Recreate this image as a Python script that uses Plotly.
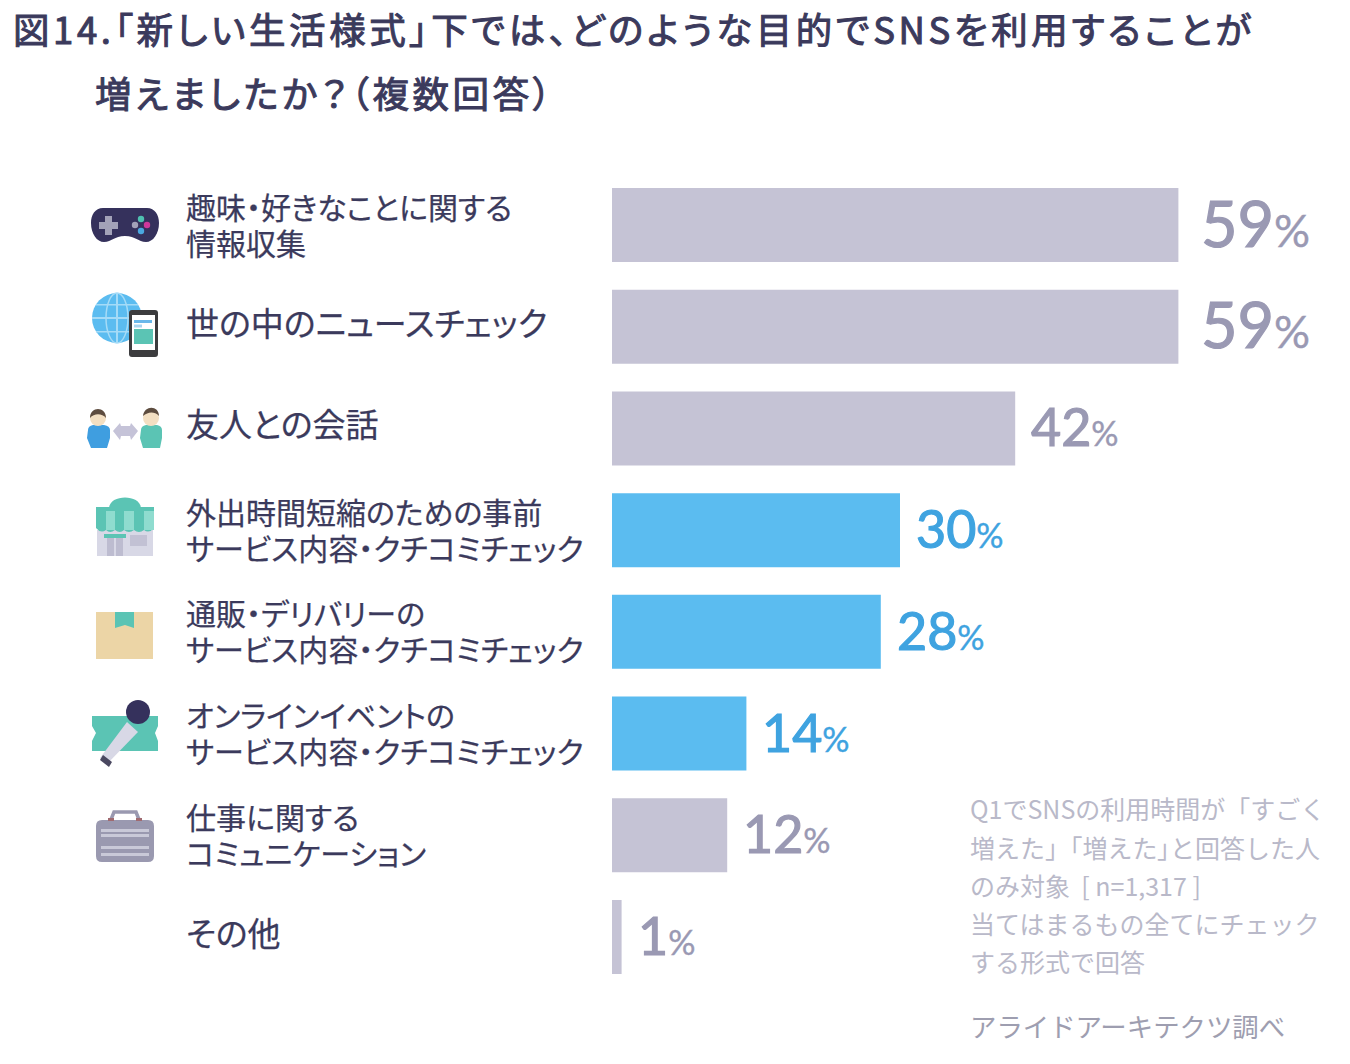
import plotly.graph_objects as go

W, H = 1350, 1064
FONT = "Noto Sans CJK JP"
NUMFONT = "Lato"

title_lines = ["図14.「新しい生活様式」下では、どのような目的でSNSを利用することが",
               "増えましたか？（複数回答）"]
categories = ["趣味・好きなことに関する\n情報収集", "世の中のニュースチェック", "友人との会話",
              "外出時間短縮のための事前\nサービス内容・クチコミチェック",
              "通販・デリバリーの\nサービス内容・クチコミチェック",
              "オンラインイベントの\nサービス内容・クチコミチェック",
              "仕事に関する\nコミュニケーション", "その他"]
values = [59, 59, 42, 30, 28, 14, 12, 1]
highlighted = [False, False, False, True, True, True, False, False]
note_lines = ["Q1でSNSの利用時間が「すごく", "増えた」「増えた」と回答した人", "のみ対象\u00a0\u00a0[ n=1,317 ]",
              "当てはまるもの全てにチェック", "する形式で回答"]
source = "アライドアーキテクツ調べ"

GRAY, BLUE, GRAY_T, BLUE_T = "#c5c3d5", "#5bbcf0", "#9a99b3", "#3fa3e0"
DARK, TEAL, INK = "#35315c", "#5bc4b4", "#3b3a5c"

fx = lambda x: x / W
fy = lambda y: 1 - y / H


def path(d, fill, line=None, lw=0):
    out, num_is_x = [], True
    for tok in d.split():
        try:
            v = float(tok)
            out.append(f"{fx(v) if num_is_x else fy(v):.5f}")
            num_is_x = not num_is_x
        except ValueError:
            out.append(tok)
            num_is_x = True
    return dict(type="path", xref="paper", yref="paper", path=" ".join(out),
                fillcolor=fill, line=dict(color=line or fill, width=lw), layer="above")


def rect(x0, y0, x1, y1, fill):
    return dict(type="rect", xref="paper", yref="paper", x0=fx(x0), x1=fx(x1), y0=fy(y0), y1=fy(y1),
                fillcolor=fill, line=dict(width=0), layer="above")


def circ(cx, cy, rx, fill, ry=None, line=None, lw=0):
    ry = rx if ry is None else ry
    return dict(type="circle", xref="paper", yref="paper", x0=fx(cx - rx), x1=fx(cx + rx),
                y0=fy(cy - ry), y1=fy(cy + ry), fillcolor=fill,
                line=dict(color=line or fill, width=lw), layer="above")


def rrect(x0, y0, x1, y1, r, fill):
    return path(f"M {x0+r} {y0} L {x1-r} {y0} Q {x1} {y0} {x1} {y0+r} L {x1} {y1-r} Q {x1} {y1} {x1-r} {y1} "
                f"L {x0+r} {y1} Q {x0} {y1} {x0} {y1-r} L {x0} {y0+r} Q {x0} {y0} {x0+r} {y0} Z", fill)


icons = [
    # gamepad
    path("M 103 208 L 147 208 C 155 208 159 215 159 223 C 159 234 153 242 146 242 C 138 242 136 236 125 236 "
         "C 114 236 112 242 104 242 C 97 242 91 234 91 223 C 91 215 95 208 103 208 Z", DARK),
    rect(99, 222, 118, 229, "#a3a2b8"), rect(105, 216, 112, 235, "#a3a2b8"),
    circ(141, 219, 3.2, "#4fc0b0"), circ(147, 225, 3.2, "#d0379b"), circ(141, 231, 3.2, "#4aa8e0"),
    circ(135, 225, 3.2, "#a3a2b8"),
    # globe and phone
    circ(117, 318, 25, "#5bbcf0"),
    circ(117, 318, 11, "rgba(0,0,0,0)", ry=25, line="#a5dbf7", lw=1.5),
    rect(116, 293, 118, 343, "#a5dbf7"), rect(92, 317, 142, 319, "#a5dbf7"),
    rect(96, 304, 138, 305.5, "#a5dbf7"), rect(96, 331, 138, 332.5, "#a5dbf7"),
    rrect(129, 310, 158, 357, 3, "#3c3c3e"), rect(132, 315, 155, 350, "#ffffff"),
    rect(134, 320, 152, 323, "#6ab8ea"), rect(134, 324.5, 142, 327.5, "#a8d5f0"), rect(134, 329, 153, 344, TEAL),
    # two people
    path("M 88 430 Q 88 426 93 425 L 104 425 Q 110 426 110 430 L 110 438 L 107 448 L 91 448 L 87 438 Z", "#3f9ee0"),
    circ(98, 418, 8, "#f3dfc2"), path("M 90 418 C 90 406 106 406 106 418 C 102 413 94 413 90 418 Z", "#5d4c3f"),
    path("M 141 430 Q 141 426 146 425 L 157 425 Q 162 426 162 430 L 162 438 L 160 448 L 143 448 L 140 438 Z", TEAL),
    circ(151, 418, 8, "#f3dfc2"), path("M 143 416 C 144 405 159 405 159 416 C 154 411 148 412 143 416 Z", "#5d4c3f"),
    path("M 113 431 L 120 423 L 121 426 L 130 426 L 131 423 L 138 431 L 131 440 L 130 436 L 121 436 L 120 440 Z", "#c5c3d8"),
    # shop
    path("M 109 508 C 110 494 140 494 141 508 Z", TEAL),
    rect(97, 530, 153, 556, "#d8d8e6"), rect(107, 538, 123, 556, "#bdbcd0"), rect(114, 538, 116, 556, "#d8d8e6"),
    rect(130, 535, 147, 546, "#c2c1d4"), rect(104, 534, 126, 538, TEAL),
    path("M 96 507 L 154 507 L 154 528 Q 149 534 144 530 Q 139 534 134 530 Q 129 534 124 530 Q 120 534 115 530 "
         "Q 110 534 106 530 Q 101 534 96 528 Z", TEAL),
    rect(106, 511, 115, 530, "#8fdccf"), rect(124, 511, 134, 530, "#8fdccf"), rect(144, 511, 154, 530, "#8fdccf"),
    # parcel
    rect(96, 612, 153, 659, "#ecd5a6"),
    path("M 115 612 L 134 612 L 134 628 L 125 625 L 115 628 Z", TEAL),
    # ticket and microphone
    path("M 92 716 L 158 716 L 158 726 L 155 733 L 158 741 L 158 751 L 92 751 L 92 741 L 96 733 L 92 726 Z", TEAL),
    path("M 127 722 L 138 732 L 107 764 L 100 758 Z", "#d8d8e6"),
    path("M 103 755 L 112 762 L 109 767 L 100 760 Z", "#4a4860"),
    circ(138, 712, 12, DARK),
    # briefcase
    path("M 110 822 L 114 812 L 136 812 L 140 822", "rgba(0,0,0,0)", line="#9a99b0", lw=3.5),
    rrect(96, 820, 154, 862, 6, "#9a99b0"),
    rect(101, 829, 149, 832, "#c9c9d8"), rect(101, 834, 149, 837, "#c9c9d8"),
    rect(101, 846, 149, 849, "#c9c9d8"), rect(101, 853, 149, 856, "#c9c9d8"),
    rect(108, 818, 114, 821, "#a06a70"), rect(136, 818, 142, 821, "#a06a70"),
]

pitch = (937 - 225) / 7
top, bottom = 225 - pitch / 2, 225 + pitch * 7.5
ids = list(range(len(categories)))

fig = go.Figure(go.Bar(
    y=ids, x=values, orientation="h",
    marker=dict(color=[BLUE if h else GRAY for h in highlighted], line=dict(width=0)),
    hoverinfo="skip"))

annotations = []


def note(text, x, y, size, color, family=FONT):
    annotations.append(dict(text=text, xref="paper", yref="paper", x=fx(x - 3), y=fy(y), xanchor="left",
                            yanchor="middle", showarrow=False, align="left",
                            font=dict(family=family, size=size, color=color)))


note(title_lines[0], 14, 29, 36.5, INK)
note(title_lines[1], 96, 93, 36.5, INK)

for i, c in enumerate(categories):
    lines = c.split("\n")
    annotations.append(dict(text="<br>".join(lines), xref="paper", yref="y", x=fx(184), y=i,
                            yshift=5 if len(lines) == 1 else 2,
                            xanchor="left", yanchor="middle", showarrow=False, align="left",
                            font=dict(family=FONT, size=33 if len(lines) == 1 else 30, color=INK)))

for i, (v, h) in enumerate(zip(values, highlighted)):
    big = v >= 50
    num, pct = (63, 45) if big else (52, 34)
    annotations.append(dict(text=f"{v}<span style='font-size:{pct}px'>%</span>", x=v, y=i, xref="x", yref="y",
                            xanchor="left", yanchor="middle", showarrow=False, align="left",
                            xshift=21 if big else 14, yshift=3 if big else 2,
                            font=dict(family=NUMFONT, size=num, color=BLUE_T if h else GRAY_T)))

for line, y in zip(note_lines, [808, 847, 885, 923, 961]):
    note(line, 971, y, 25, "#b9b9c9")
note(source, 971, 1025, 26.4, "#9e9eb0")

fig.update_layout(
    width=W, height=H, margin=dict(l=0, r=0, t=0, b=0), paper_bgcolor="white", plot_bgcolor="white",
    showlegend=False, bargap=1 - 74 / pitch, shapes=icons, annotations=annotations,
    xaxis=dict(domain=[612 / W, 1], range=[0, (W - 612) / 9.6], visible=False),
    yaxis=dict(domain=[1 - bottom / H, 1 - top / H], range=[7.5, -0.5], visible=False))

fig.write_html("out.html", config=dict(displayModeBar=False), post_script="""
document.body.style.margin='0';
var tight={25:/」(?=と)/g};
document.querySelectorAll('.annotation-text').forEach(function(t){
  var f=parseFloat(t.style.fontSize);
  if(f==36.5){t.style.stroke='#3b3a5c';t.style.strokeWidth='1px';t.style.letterSpacing='3.6px';t.style.fontFeatureSettings='"palt" 1';}
  if(f==30||f==33){
    t.style.stroke='#3b3a5c';t.style.strokeWidth='0.25px';t.style.fontFeatureSettings='"palt" 1';
    var ls=t.querySelectorAll('tspan.line');
    if(ls.length==2){
      ls[0].setAttribute('y',parseFloat(ls[0].getAttribute('y'))+1.5);
      ls[1].setAttribute('y',parseFloat(ls[1].getAttribute('y'))-1.5);
    }
  }
  if(f==63||f==52){
    t.style.stroke=t.style.fill;t.style.strokeWidth='1.2px';
    t.querySelectorAll('tspan').forEach(function(s){s.style.strokeWidth='0.4px';});
  }
  if(tight[f]){
    var w=document.createTreeWalker(t,NodeFilter.SHOW_TEXT),nodes=[],n;
    while(n=w.nextNode()){nodes.push(n);}
    nodes.forEach(function(node){
      var parts=node.nodeValue.split(new RegExp('('+tight[f].source+')'));
      if(parts.length<2){return;}
      var frag=document.createDocumentFragment();
      parts.forEach(function(p,i){
        if(!p){return;}
        if(i%2){
          var sp=document.createElementNS('http://www.w3.org/2000/svg','tspan');
          sp.style.fontFeatureSettings='"palt" 1';
          sp.textContent=p;frag.appendChild(sp);
        }else{frag.appendChild(document.createTextNode(p));}
      });
      node.parentNode.replaceChild(frag,node);
    });
  }
});
""")
